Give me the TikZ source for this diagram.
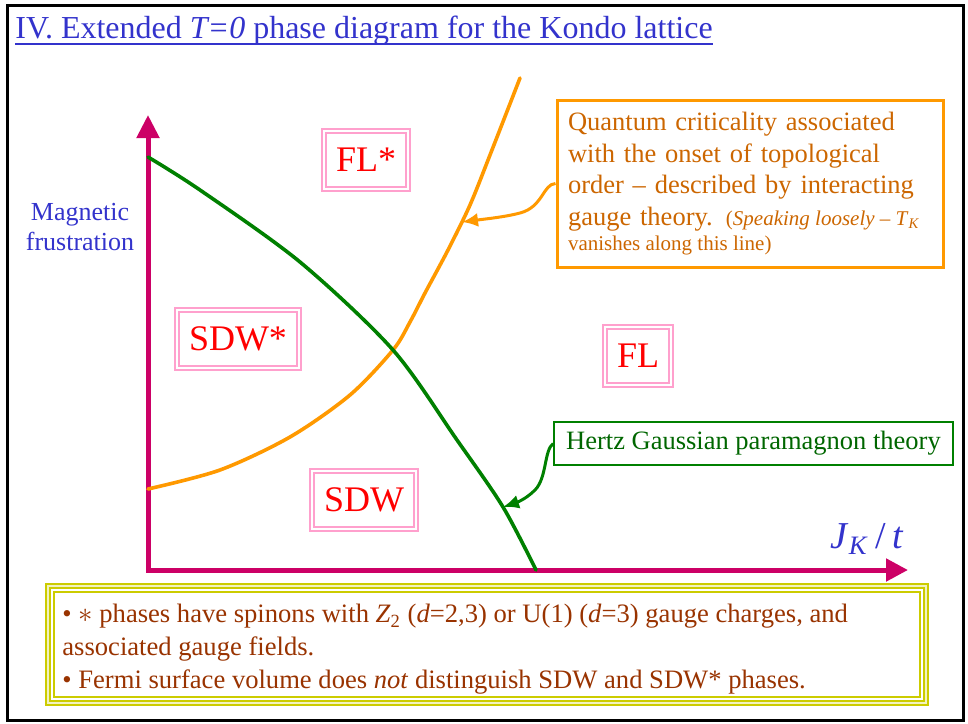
\documentclass[tikz,border=0pt]{standalone}
\usepackage{fontspec}
\setmainfont{Liberation Serif}
\usepackage{xcolor}
\usetikzlibrary{arrows.meta}
\definecolor{cortitulo}{RGB}{51,51,204}
\definecolor{coreixo}{RGB}{204,0,102}
\definecolor{corverde}{RGB}{0,128,0}
\definecolor{cortextoverde}{RGB}{0,102,0}
\definecolor{corlaranja}{RGB}{255,153,0}
\definecolor{cortextolaranja}{RGB}{204,102,0}
\definecolor{corvermelho}{RGB}{255,0,0}
\definecolor{corrosa}{RGB}{255,160,205}
\definecolor{cormarrom}{RGB}{153,51,0}
\definecolor{coramarelo}{RGB}{204,204,0}
\newcommand{\fonte}[2]{\fontsize{#1}{#2}\selectfont}
\newcommand{\fontepequena}{\fontsize{10.5}{15.8}\selectfont\spaceskip=0pt\xspaceskip=0pt}

\begin{document}
\begin{tikzpicture}[x=0.5pt, y=-0.5pt,
  fase/.style={draw=corrosa, double=white, double distance=1.4pt, line width=0.6pt,
               text=corvermelho, font=\fonte{18}{20}, minimum height=29pt, inner xsep=6pt},
  curva/.style={line width=1.8pt, line cap=round},
  eixo/.style={line width=2.5pt, color=coreixo, line join=miter,
               {Triangle[length=11.5pt,width=11pt]}-{Triangle[length=11pt,width=11pt]}},
  seta/.style={line width=1.5pt, -{Latex[length=8pt,width=7pt]}}
]
  \useasboundingbox (0,0) rectangle (968,723);
  \draw[line width=1.5pt] (7,5) rectangle (963,720);

  % titulo
  \node[anchor=base west, text=cortitulo, font=\fonte{16}{19}, inner sep=0pt] (titulo) at (15,38)
    {IV. Extended \textit{T=0} phase diagram for the Kondo lattice};
  \draw[line width=1.2pt, cortitulo] ([yshift=-3pt]titulo.base west) -- ([yshift=-3pt]titulo.base east);

  % eixos
  \coordinate (topo) at (148,115);
  \coordinate (origem) at (148,570);
  \coordinate (fim) at (908,570);
  \draw[eixo] (topo) -- (origem) -- (fim);
  \node[text=cortitulo, align=center, font=\fonte{13}{15}] (frustracao) at (80,227) {Magnetic\\frustration};
  \node[text=cortitulo, font=\fonte{19}{22}] (jk) at (867,539) {\textit{J}\textsubscript{\textit{K}}\,/\,\textit{t}};

  % linhas de fase
  \draw[curva, corlaranja] plot[smooth] coordinates {(148,489) (220,470) (290,437) (350,395) (393,350) (410,322) (425,293) (448,250) (470,205) (490,155) (520,78)};
  \draw[curva, corverde] plot[smooth] coordinates {(148,157) (200,190) (300,262) (393,350) (457,440) (503,507) (536,570)};
  \coordinate (alvolaranja) at (462,222);
  \coordinate (alvoverde) at (503,507);

  % fases
  \node[fase] (flestrela) at (366,160) {FL*};
  \node[fase] (sdwestrela) at (238,339) {SDW*};
  \node[fase] (sdw) at (364,500) {SDW};
  \node[fase] (fl) at (638,356) {FL};

  % caixas de comentario
  \node[draw=corlaranja, line width=1.5pt, text=cortextolaranja, font=\fonte{13.25}{15.8},
        align=left, text width=182pt, inner xsep=5.5pt, minimum height=83.5pt] (laranja) at (750,183.5)
    {Quantum criticality associated\\ with the onset of topological\\ order -- described by interacting\\
     gauge theory. {\fontepequena(\textit{Speaking loosely} -- \textit{T}\textsubscript{\textit{K}}}\\[-3.3pt]
     {\fontepequena vanishes along this line)}};
  \node[draw=corverde, line width=1pt, text=cortextoverde, font=\fonte{13.25}{16},
        minimum height=21.5pt, inner xsep=6pt] (hertz) at (753.5,443.5) {Hertz Gaussian paramagnon theory};

  \draw[seta, corlaranja] (laranja.west) .. controls (543,184) and (543,207) .. (520,213)
    .. controls (505,217) and (485,219) .. (alvolaranja);
  \draw[seta, corverde] (hertz.west) .. controls (544,450) and (547,478) .. (535,490)
    .. controls (525,500) and (515,503) .. (alvoverde);

  % notas
  \draw[coramarelo, line width=0.6pt, fill=coramarelo!25] (46,584) rectangle (928,705);
  \draw[coramarelo, line width=1.2pt, fill=white] (50,588) rectangle (924,701);
  \draw[coramarelo, line width=0.6pt] (54,592) rectangle (920,697);
  \node[anchor=north west, align=left, text=cormarrom, font=\fonte{13.3}{16.5}, inner sep=0pt] (notas) at (62,604)
    {• $\ast$ phases have spinons with \textit{Z}\textsubscript{2} (\textit{d}=2,3) or U(1) (\textit{d}=3) gauge charges, and\\
     associated gauge fields.\\
     • Fermi surface volume does \textit{not} distinguish SDW and SDW* phases.};
\end{tikzpicture}
\end{document}
